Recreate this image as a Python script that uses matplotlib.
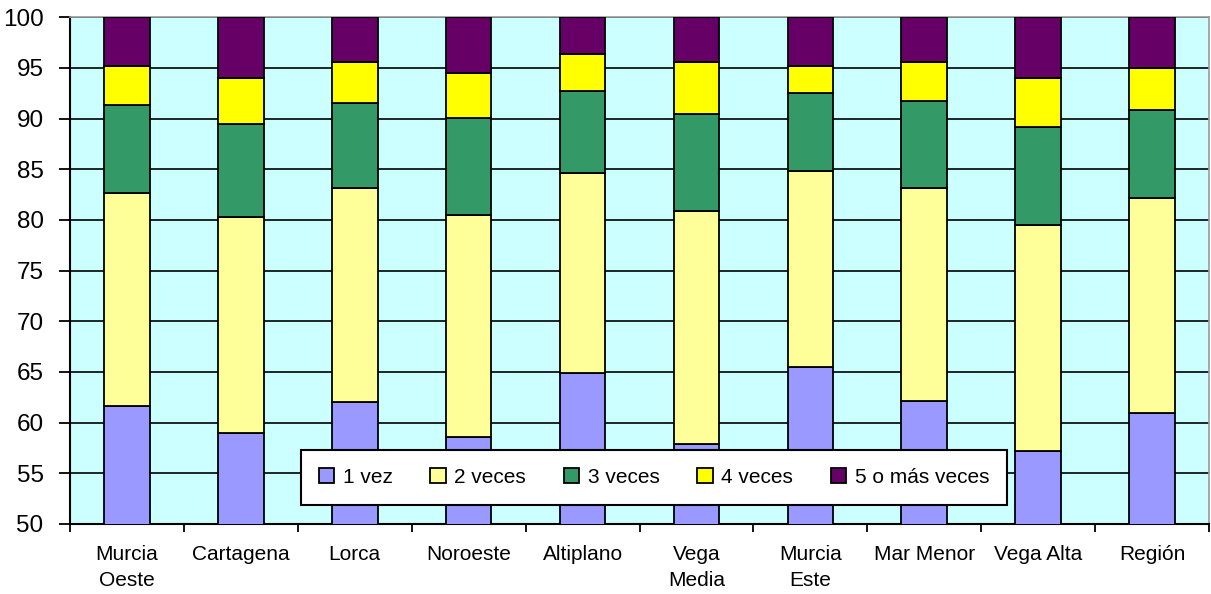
import matplotlib
matplotlib.use("Agg")
import matplotlib.pyplot as plt
import numpy as np

categories = ["Murcia\nOeste", "Cartagena", "Lorca", "Noroeste", "Altiplano",
              "Vega\nMedia", "Murcia\nEste", "Mar Menor", "Vega Alta", "Región"]
series_names = ["1 vez", "2 veces", "3 veces", "4 veces", "5 o más veces"]
vez1 = [61.6, 59.0, 62.0, 58.6, 64.9, 57.9, 65.5, 62.1, 57.2, 61.0]
veces2 = [21.1, 21.3, 21.2, 21.9, 19.7, 23.0, 19.3, 21.1, 22.3, 21.2]
veces3 = [8.6, 9.2, 8.3, 9.6, 8.1, 9.6, 7.7, 8.5, 9.7, 8.7]
veces4 = [3.9, 4.5, 4.1, 4.4, 3.7, 5.1, 2.7, 3.9, 4.8, 4.1]
veces5 = [4.8, 6.0, 4.4, 5.5, 3.6, 4.4, 4.8, 4.4, 6.0, 5.0]
colors = ["#9999FF", "#FFFF99", "#339966", "#FFFF00", "#660066"]
yticks = [50, 55, 60, 65, 70, 75, 80, 85, 90, 95, 100]

plt.rcParams['font.family'] = ['Liberation Sans', 'DejaVu Sans']

fig = plt.figure(figsize=(12.11, 5.94), dpi=100)
ax = fig.add_axes([70 / 1211, 1 - 524 / 594, 1139 / 1211, (524 - 17.3) / 594])
ax.set_facecolor("#CCFFFF")

x = np.arange(len(categories))
bottom = np.zeros(len(categories))
for name, vals, col in zip(series_names, [vez1, veces2, veces3, veces4, veces5], colors):
    ax.bar(x, vals, bottom=bottom, width=0.4, color=col, edgecolor="black",
           linewidth=1.3, label=name, zorder=3)
    bottom += np.array(vals)

ax.set_ylim(50, 100)
ax.set_xlim(-0.5, len(categories) - 0.5)
ax.set_yticks(yticks)
ax.set_yticklabels([str(v) for v in yticks], fontsize=17.5)
ax.yaxis.grid(True, color="black", linewidth=1.2, zorder=0)
ax.set_axisbelow(True)

ax.set_xticks(np.arange(len(categories) + 1) - 0.5, minor=False)
ax.set_xticklabels([])
ax.set_xticks(x, minor=True)
ax.set_xticklabels(categories, minor=True, fontsize=15, linespacing=1.45, va="top")
ax.tick_params(axis="x", which="minor", length=0, pad=15)
ax.tick_params(axis="x", which="major", length=6, width=1.3, direction="out")
ax.tick_params(axis="y", length=8, width=1.3, direction="out", pad=11)

for side in ["top", "right"]:
    ax.spines[side].set_color("#999999")
    ax.spines[side].set_linewidth(1.2)
for side in ["left", "bottom"]:
    ax.spines[side].set_color("black")
    ax.spines[side].set_linewidth(1.5)

leg = ax.legend(loc="lower left", bbox_to_anchor=(0.2025, 0.0375, 0.6205, 0.11),
                mode="expand", ncol=5, fontsize=15, frameon=True, fancybox=False,
                edgecolor="black", framealpha=1, borderpad=0.87,
                handlelength=0.75, handleheight=0.75, handletextpad=0.4,
                borderaxespad=0)
leg.get_frame().set_linewidth(1.5)
leg.set_zorder(5)

fig.savefig("out.png", dpi=100)
